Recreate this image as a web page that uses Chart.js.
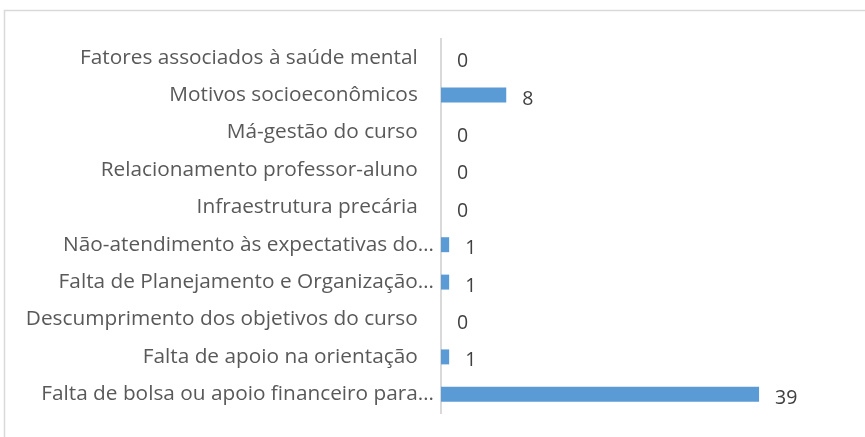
<!DOCTYPE html>
<html lang="pt">
<head>
<meta charset="utf-8">
<title>Motivos</title>
<script src="https://cdn.jsdelivr.net/npm/chart.js@4/dist/chart.umd.min.js"></script>
<style>
    html, body { margin: 0; padding: 0; background: #fff; }
    #wrap { position: relative; width: 865px; height: 437px; }
</style>
</head>
<body>
<div id="wrap"><canvas id="motivos-chart"></canvas></div>
<script>
// Categories, top to bottom as they appear on the axis
const categories = [
    'Fatores associados à saúde mental',
    'Motivos socioeconômicos',
    'Má-gestão do curso',
    'Relacionamento professor-aluno',
    'Infraestrutura precária',
    'Não-atendimento às expectativas do…',
    'Falta de Planejamento e Organização…',
    'Descumprimento dos objetivos do curso',
    'Falta de apoio na orientação',
    'Falta de bolsa ou apoio financeiro para…'
];
const counts = [0, 8, 0, 0, 0, 1, 1, 0, 1, 39];
const axisMax = 45;

const FONT = '"Open Sans", sans-serif';

// Light frame around the whole chart
const framePlugin = {
    id: 'frame',
    beforeDraw(chart) {
        const c = chart.ctx;
        c.save();
        c.strokeStyle = '#d9d9d9';
        c.lineWidth = 1.5;
        c.strokeRect(4.5, 10.5, chart.width + 10, chart.height + 10);
        c.restore();
    }
};

// Value printed to the right of each bar
const valueLabels = {
    id: 'valueLabels',
    afterDatasetsDraw(chart) {
        const c = chart.ctx;
        const meta = chart.getDatasetMeta(0);
        c.save();
        c.font = '19.5px ' + FONT;
        c.fillStyle = '#404040';
        c.textBaseline = 'middle';
        c.textAlign = 'left';
        meta.data.forEach((bar, i) => {
            c.fillText(String(counts[i]), bar.x + 16, bar.y + 4);
        });
        c.restore();
    }
};

new Chart(document.getElementById('motivos-chart'), {
    type: 'bar',
    data: {
        labels: categories,
        datasets: [{
            data: counts,
            backgroundColor: '#5b9bd5',
            borderWidth: 0,
            categoryPercentage: 0.4,
            barPercentage: 1
        }]
    },
    options: {
        indexAxis: 'y',
        responsive: true,
        maintainAspectRatio: false,
        animation: false,
        layout: {
            padding: { left: 0, right: 57, top: 39, bottom: 24 }
        },
        plugins: {
            legend: { display: false },
            tooltip: { enabled: false }
        },
        scales: {
            x: {
                display: false,
                min: 0,
                max: axisMax
            },
            y: {
                grid: { display: false, drawTicks: false },
                border: { display: true, color: '#d9d9d9', width: 2 },
                afterFit(scale) { scale.width = 441; },
                ticks: {
                    padding: 7,
                    color: '#595959',
                    font: { family: FONT, size: 20.8 },
                    callback(value) {
                        const label = categories[value];
                        return label.endsWith('…') ? label : label + '   ';
                    }
                }
            }
        }
    },
    plugins: [framePlugin, valueLabels]
});
</script>
</body>
</html>
